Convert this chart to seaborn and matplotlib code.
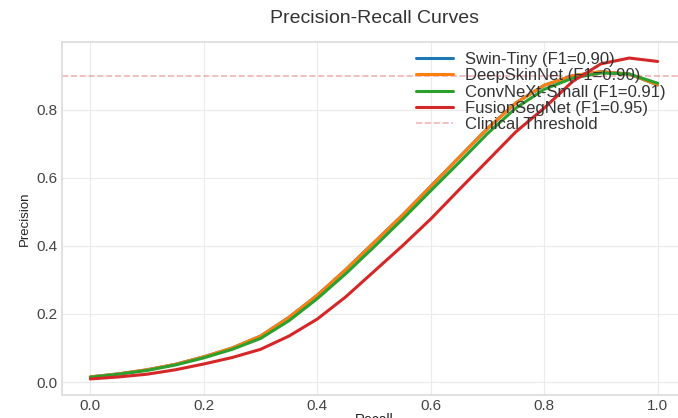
import numpy as np
import pandas as pd
import matplotlib
matplotlib.use("Agg")
import matplotlib.pyplot as plt
import seaborn as sns

recall = [0.0, 0.05, 0.1, 0.15, 0.2, 0.25, 0.3, 0.35, 0.4, 0.45, 0.5,
          0.55, 0.6, 0.65, 0.7, 0.75, 0.8, 0.85, 0.9, 0.95, 1.0]

swin_tiny = [0.015, 0.024, 0.036, 0.052, 0.074, 0.100, 0.135, 0.190, 0.255, 0.330, 0.410,
             0.490, 0.575, 0.660, 0.745, 0.820, 0.872, 0.900, 0.912, 0.905, 0.873]
deepskinnet = [0.015, 0.024, 0.036, 0.052, 0.074, 0.100, 0.135, 0.190, 0.255, 0.330, 0.410,
               0.490, 0.575, 0.660, 0.745, 0.820, 0.872, 0.900, 0.912, 0.905, 0.873]
convnext_small = [0.014, 0.023, 0.034, 0.050, 0.071, 0.096, 0.128, 0.180, 0.245, 0.318, 0.397,
                  0.478, 0.562, 0.645, 0.730, 0.805, 0.860, 0.893, 0.908, 0.905, 0.878]
fusionsegnet = [0.009, 0.015, 0.023, 0.036, 0.053, 0.072, 0.096, 0.135, 0.185, 0.250, 0.325,
                0.400, 0.479, 0.565, 0.650, 0.735, 0.805, 0.883, 0.935, 0.952, 0.942]

models = ["Swin-Tiny", "DeepSkinNet", "ConvNeXt-Small", "FusionSegNet"]
f1_scores = [0.90, 0.90, 0.91, 0.95]
threshold = 0.9

series = [swin_tiny, deepskinnet, convnext_small, fusionsegnet]
labels = [f"{m} (F1={f:.2f})" for m, f in zip(models, f1_scores)]

df = pd.concat([
    pd.DataFrame({"Recall": recall, "Precision": vals, "Model": lab})
    for vals, lab in zip(series, labels)
], ignore_index=True)

sns.set_theme(style="whitegrid")
plt.rcParams["font.family"] = ["Liberation Sans", "DejaVu Sans"]

fig = plt.figure(figsize=(6.78, 4.18), dpi=100)
ax = fig.add_axes([62 / 678, 23 / 418, 624 / 678, 353 / 418])

palette = ["#1f77b4", "#ff7f0e", "#2ca02c", "#d62728"]
sns.lineplot(data=df, x="Recall", y="Precision", hue="Model", palette=palette,
             linewidth=2.2, ax=ax, legend=True)
ax.axhline(threshold, color="#d62728", linestyle="--", linewidth=1.2, alpha=0.35,
           label="Clinical Threshold")

for s in ax.spines.values():
    s.set_color("#dddddd")
ax.grid(color="#ebebeb", linewidth=0.8)

ax.set_title("Precision-Recall Curves", fontsize=14, pad=14, color="#333333")
ax.set_xlabel("Recall", fontsize=10, color="#222222", labelpad=0)
ax.set_ylabel("Precision", fontsize=9.5, color="#222222", labelpad=4)
ax.tick_params(axis="both", labelsize=11, colors="#444444", length=0, pad=3)

handles, labs = ax.get_legend_handles_labels()
ax.legend(handles, labs, loc="upper right", frameon=False, fontsize=12,
          bbox_to_anchor=(0.983, 1.0), borderaxespad=0.3, borderpad=0.3,
          handlelength=2.2, handletextpad=0.7,
          labelspacing=0.08, labelcolor="#333333")

fig.savefig("out.png", dpi=100)
